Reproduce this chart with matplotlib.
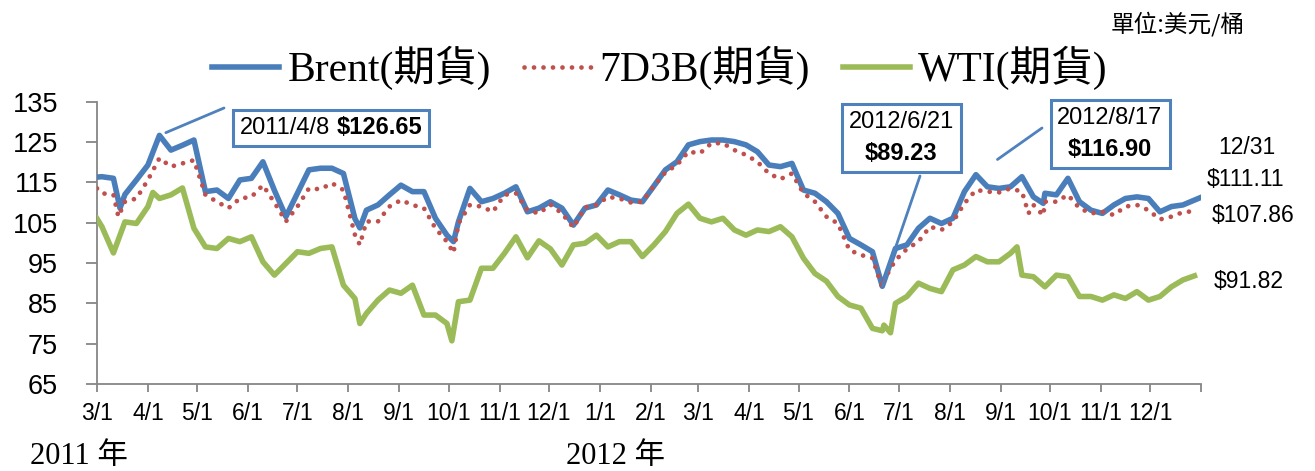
import matplotlib
matplotlib.use("Agg")
import matplotlib.pyplot as plt
import matplotlib.dates as mdates
from matplotlib.ticker import FuncFormatter
from matplotlib.offsetbox import TextArea, VPacker, HPacker, AnnotationBbox
import pandas as pd

W, H = 1315, 471
BLUE = "#4A7EBB"
RED = "#C0504D"
GREEN = "#9BBB59"
BOXC = "#4F81BD"
AXC = "#868686"
SANS = "Liberation Sans"
SERIF = ["Liberation Serif", "Noto Sans CJK TC"]

# weekly (Friday) readings, 2011-03-04 .. 2012-12-28
weeks = pd.date_range("2011-03-04", "2012-12-28", freq="7D")

brent = [116.4, 116.0, 112.0, 115.6, 119.3, 126.65, 123.0, 124.2, 125.5, 112.7,
         113.1, 111.0, 115.6, 116.0, 120.1, 113.0, 106.5, 112.3, 118.1, 118.5,
         118.5, 117.2, 106.0, 108.1, 109.4, 111.9, 114.3, 112.7, 112.7, 106.1,
         101.9, 105.2, 113.5, 110.2, 111.0, 112.3, 113.9, 107.7, 108.6, 110.2,
         108.6, 104.4, 108.6, 109.4, 113.1, 111.9, 110.6, 110.2, 114.1, 118.1,
         120.1, 124.3, 125.1, 125.5, 125.5, 125.1, 124.3, 122.6, 119.3, 118.9,
         119.7, 113.1, 112.3, 110.2, 107.3, 101.1, 99.5, 97.8, 90.4, 98.6,
         99.5, 103.6, 106.1, 104.8, 106.1, 112.7, 116.90, 113.9, 113.5, 113.9,
         116.4, 111.4, 112.3, 111.9, 116.0, 110.2, 108.1, 107.3, 109.4, 111.0,
         111.4, 111.0, 107.7, 109.0, 109.4, 110.6]

d7d3b = [112.3, 111.9, 110.2, 111.0, 115.6, 121.0, 118.9, 119.7, 120.5, 111.9,
         110.2, 108.6, 111.0, 111.4, 114.3, 110.0, 105.3, 109.0, 113.5, 113.3,
         114.8, 113.1, 102.0, 105.3, 105.3, 109.0, 110.6, 109.4, 108.6, 103.6,
         100.3, 104.8, 109.4, 109.0, 107.7, 111.9, 112.3, 108.1, 107.3, 109.5,
         107.3, 103.8, 108.8, 109.4, 111.4, 111.0, 110.0, 110.2, 114.1, 117.5,
         119.3, 122.6, 122.2, 124.7, 124.7, 123.0, 121.8, 120.1, 117.2, 115.8,
         117.2, 112.3, 110.2, 106.5, 104.8, 98.2, 97.0, 96.2, 90.8, 95.7,
         98.5, 100.3, 104.0, 103.2, 105.2, 109.8, 113.1, 112.7, 112.5, 113.5,
         112.7, 109.4, 110.2, 110.2, 111.9, 108.6, 107.3, 107.7, 106.9, 109.0,
         109.4, 108.1, 105.8, 106.5, 107.6, 107.86]

wti = [104.0, 97.5, 105.2, 104.8, 109.0, 111.0, 111.9, 113.6, 103.6, 99.0,
       98.6, 101.1, 100.3, 101.5, 95.3, 92.0, 94.9, 97.8, 97.4, 98.6,
       99.0, 89.5, 86.2, 82.5, 85.8, 88.3, 87.5, 89.5, 82.1, 82.1,
       80.0, 85.4, 85.8, 93.7, 93.7, 97.4, 101.5, 96.3, 100.5, 98.5,
       94.5, 99.5, 99.9, 101.9, 99.0, 100.3, 100.3, 96.6, 99.5, 102.8,
       107.3, 109.6, 106.1, 105.2, 106.1, 103.2, 101.9, 103.2, 102.8, 104.0,
       101.5, 96.2, 92.4, 90.5, 86.7, 84.6, 83.8, 78.8, 79.6, 85.0,
       86.7, 90.0, 88.7, 87.9, 93.3, 94.5, 96.6, 95.3, 95.3, 97.4,
       92.0, 91.6, 89.1, 92.0, 91.6, 86.7, 86.7, 85.8, 87.1, 86.2,
       87.9, 85.8, 86.7, 89.1, 90.8, 91.82]

# extra daily readings between the weekly ones (spikes, start, year end)
brent_extra = {"2011-03-01": 116.3, "2011-03-15": 108.6, "2011-08-08": 103.7,
               "2011-10-04": 100.3, "2012-06-21": 89.23, "2012-09-27": 109.8,
               "2012-12-31": 111.11}
d7d3b_extra = {"2011-03-01": 113.5, "2011-03-14": 106.5, "2011-08-08": 99.5,
               "2011-10-04": 97.5, "2012-06-21": 88.9, "2012-09-18": 107.3,
               "2012-09-27": 106.8}
wti_extra = {"2011-03-01": 106.0, "2011-04-04": 112.5, "2011-08-08": 80.0,
             "2011-10-03": 75.7, "2012-06-21": 78.2, "2012-06-26": 77.7,
             "2012-09-11": 99.0}


def series(vals, extra):
    s = pd.Series(vals, index=weeks)
    e = pd.Series(list(extra.values()), index=pd.to_datetime(list(extra.keys())))
    return pd.concat([s, e]).sort_index()


s_brent = series(brent, brent_extra)
s_7d = series(d7d3b, d7d3b_extra)
s_wti = series(wti, wti_extra)

fig = plt.figure(figsize=(W / 100, H / 100), dpi=100)
ax = fig.add_axes([97 / W, 1 - 384 / H, (1201 - 97) / W, (384 - 101.7) / H])

l1, = ax.plot(s_brent.index, s_brent.values, color=BLUE, lw=4, solid_joinstyle="round", zorder=3)
l2, = ax.plot(s_7d.index, s_7d.values, color=RED, lw=3.4, linestyle=(0, (0.01, 2.0)),
              dash_capstyle="round", zorder=4)
l3, = ax.plot(s_wti.index, s_wti.values, color=GREEN, lw=4, solid_joinstyle="round", zorder=3)

ax.set_xlim(pd.Timestamp("2011-03-01"), pd.Timestamp("2013-01-01"))
ax.set_ylim(65, 135)
ax.set_yticks(range(65, 136, 10))
months = pd.date_range("2011-03-01", "2013-01-01", freq="MS")
ax.set_xticks(months)
ax.xaxis.set_major_formatter(FuncFormatter(
    lambda v, p: "" if mdates.num2date(v).year == 2013 else
    f"{mdates.num2date(v).month}/{mdates.num2date(v).day}"))

for side in ["top", "right"]:
    ax.spines[side].set_visible(False)
for side in ["left", "bottom"]:
    ax.spines[side].set_color(AXC)
    ax.spines[side].set_linewidth(1.3)
ax.tick_params(axis="y", length=8, width=1.3, color=AXC, pad=20, labelsize=19.5)
ax.tick_params(axis="x", length=6, width=1.3, color=AXC, pad=7, labelsize=16.5)
for lab in ax.get_xticklabels() + ax.get_yticklabels():
    lab.set_fontfamily(SANS)

fig.legend([l1, l2, l3], ["Brent(期貨)", "7D3B(期貨)", "WTI(期貨)"],
           loc="center", bbox_to_anchor=(660 / W, 1 - 68 / H), ncol=3, frameon=False,
           prop={"family": SERIF, "size": 30}, handlelength=1.6, handletextpad=0.2,
           columnspacing=0.8)

fig.text(1245 / W, 1 - 24 / H, "單位:美元/桶", ha="right", va="center",
         fontsize=17, family=["Noto Sans CJK TC", "DejaVu Sans"])

# year labels under the axis
fig.text(30 / W, 1 - 464 / H, "2011 年", ha="left", va="baseline", fontsize=22, family=SERIF)
fig.text(566 / W, 1 - 464 / H, "2012 年", ha="left", va="baseline", fontsize=22, family=SERIF)

# end-of-year labels on the right
fs = 16.5
fig.text(1247 / W, 1 - 148 / H, "12/31", ha="center", va="center", fontsize=fs, family=SANS)
fig.text(1246 / W, 1 - 180 / H, "$111.11", ha="center", va="center", fontsize=fs, family=SANS)
fig.text(1253 / W, 1 - 215 / H, "$107.86", ha="center", va="center", fontsize=fs, family=SANS)
fig.text(1249 / W, 1 - 282 / H, "$91.82", ha="center", va="center", fontsize=fs, family=SANS)


def txt(s, bold=False):
    return TextArea(s, textprops=dict(fontsize=17, family=SANS,
                                      fontweight="bold" if bold else "normal"))


def callout(pack, cx, cy):
    ab = AnnotationBbox(pack, (cx, H - cy), xycoords="figure pixels", frameon=True,
                        pad=0.42, fontsize=fs,
                        bboxprops=dict(edgecolor=BOXC, linewidth=2.2, facecolor="white",
                                       boxstyle="square"))
    ab.set_zorder(6)
    fig.add_artist(ab)


def leader(date, val, x0, y0, shrink):
    ax.annotate("", xy=(pd.Timestamp(date), val), xycoords="data",
                xytext=(x0, H - y0), textcoords="figure pixels",
                arrowprops=dict(arrowstyle="-", color=BOXC, lw=2, shrinkA=0, shrinkB=shrink),
                zorder=5, annotation_clip=False)


callout(HPacker(children=[txt("2011/4/8"), txt("$126.65", True)], sep=5, pad=0), 331, 128)
leader("2011-04-08", 126.65, 224, 108, 5)

callout(VPacker(children=[txt("2012/6/21"), txt("$89.23", True)], sep=6, pad=0,
                align="center"), 901, 138)
leader("2012-06-21", 89.23, 920, 176, 0)

callout(VPacker(children=[txt("2012/8/17"), txt("$116.90", True)], sep=6, pad=0,
                align="center"), 1110, 134)
leader("2012-08-17", 116.90, 1042, 128, 19)

fig.savefig("out.png", dpi=100)
